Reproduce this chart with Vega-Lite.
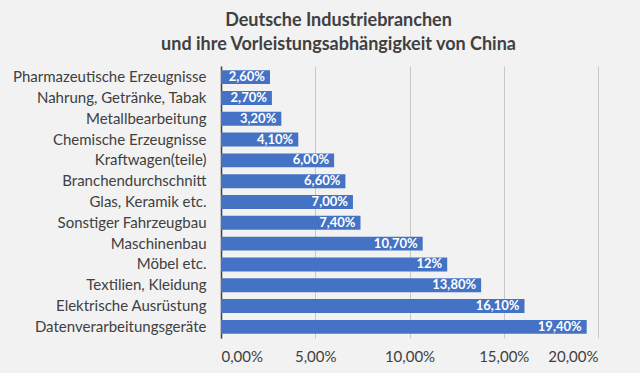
{
  "$schema": "https://vega.github.io/schema/vega-lite/v6.json",
  "width": 377,
  "height": 272,
  "autosize": {"type": "none"},
  "padding": {"left": 221, "top": 66, "right": 42, "bottom": 35},
  "background": "#f2f2f2",
  "config": {
    "locale": {"number": {"decimal": ",", "thousands": ".", "grouping": [3], "currency": ["", " €"]}},
    "font": "Lato",
    "view": {"stroke": null}
  },
  "title": {
    "text": ["Deutsche Industriebranchen", "und ihre Vorleistungsabhängigkeit von China"],
    "font": "Lato",
    "fontSize": 18,
    "fontWeight": "bold",
    "color": "#404040",
    "anchor": "middle",
    "dx": -71,
    "offset": 12,
    "lineHeight": 24
  },
  "data": {
    "values": [
      {"branche": "Pharmazeutische Erzeugnisse", "anteil": 0.026, "label": "2,60%"},
      {"branche": "Nahrung, Getränke, Tabak", "anteil": 0.027, "label": "2,70%"},
      {"branche": "Metallbearbeitung", "anteil": 0.032, "label": "3,20%"},
      {"branche": "Chemische Erzeugnisse", "anteil": 0.041, "label": "4,10%"},
      {"branche": "Kraftwagen(teile)", "anteil": 0.06, "label": "6,00%"},
      {"branche": "Branchendurchschnitt", "anteil": 0.066, "label": "6,60%"},
      {"branche": "Glas, Keramik etc.", "anteil": 0.07, "label": "7,00%"},
      {"branche": "Sonstiger Fahrzeugbau", "anteil": 0.074, "label": "7,40%"},
      {"branche": "Maschinenbau", "anteil": 0.107, "label": "10,70%"},
      {"branche": "Möbel etc.", "anteil": 0.12, "label": "12%"},
      {"branche": "Textilien, Kleidung", "anteil": 0.138, "label": "13,80%"},
      {"branche": "Elektrische Ausrüstung", "anteil": 0.161, "label": "16,10%"},
      {"branche": "Datenverarbeitungsgeräte", "anteil": 0.194, "label": "19,40%"}
    ]
  },
  "encoding": {
    "y": {
      "field": "branche",
      "type": "nominal",
      "sort": {"field": "anteil", "order": "ascending"},
      "scale": {"paddingInner": 0.33, "paddingOuter": 0.2},
      "axis": {
        "title": null,
        "ticks": false,
        "domain": true,
        "domainColor": "#404040",
        "domainWidth": 1.5,
        "labelFontSize": 15,
        "labelColor": "#404040",
        "labelPadding": 15,
        "labelLimit": 230,
        "labelFont": "Lato"
      }
    },
    "x": {
      "field": "anteil",
      "type": "quantitative",
      "scale": {"domain": [0, 0.2], "nice": false},
      "axis": {
        "title": null,
        "format": ".2%",
        "values": [0, 0.05, 0.1, 0.15, 0.2],
        "domain": false,
        "ticks": false,
        "grid": true,
        "gridColor": "#c8c8c8",
        "labelFontSize": 15,
        "labelColor": "#404040",
        "labelPadding": 11,
        "labelFont": "Lato"
      }
    }
  },
  "layer": [
    {"mark": {"type": "bar", "color": "#4472c4"}},
    {
      "mark": {"type": "text", "align": "right", "dx": -5, "color": "white", "fontWeight": "bold", "fontSize": 13, "font": "Lato"},
      "encoding": {"text": {"field": "label"}}
    }
  ]
}
